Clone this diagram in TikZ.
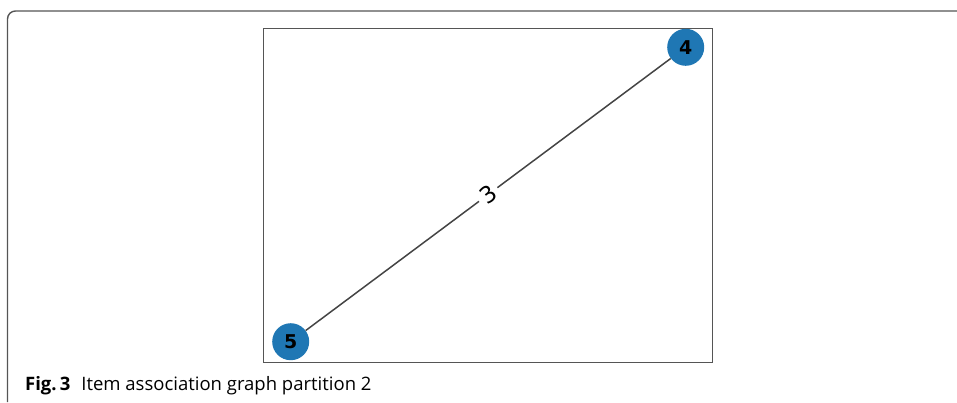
\documentclass[tikz,border=0pt]{standalone}
\usepackage{fontspec}
\setmainfont{Open Sans}
\newfontfamily\plotfont{DejaVu Sans}
\definecolor{nodeblue}{HTML}{1F77B4}
\definecolor{framegray}{HTML}{555555}
\definecolor{edgegray}{HTML}{444444}
\begin{document}
\begin{tikzpicture}[x=1pt,y=-1pt,
  vertex/.style={circle, fill=nodeblue, minimum size=37pt, inner sep=0pt,
    font=\plotfont\bfseries\fontsize{19}{19}\selectfont},
  weight/.style={fill=white, inner sep=4pt, font=\plotfont\fontsize{23}{23}\selectfont},
  link/.style={draw=edgegray, line width=1.5pt},
  axisbox/.style={draw=framegray, line width=1.8pt},
  frame/.style={draw=framegray, line width=1.4pt}]
\useasboundingbox (0,0) rectangle (957,402);
% outer panel frame (open to the right and bottom)
\draw[frame] (7.5,402) -- (7.5,19) arc[start angle=180, end angle=270, radius=8] -- (957,11);
% plot area
\draw[axisbox] (263.5,28.5) rectangle (712.5,362.5);
% graph
\node[vertex] (n4) at (685.7,47.3) {4};
\node[vertex] (n5) at (290.7,341.7) {5};
\draw[link] (n5) -- node[weight, midway, sloped] {3} (n4);
% caption
\node[anchor=base west, inner sep=0pt, font=\fontsize{18.5}{18.5}\selectfont] (cap) at (25,390)
  {\textbf{Fig.\,3}\hspace{11pt}Item association graph partition 2};
\end{tikzpicture}
\end{document}
